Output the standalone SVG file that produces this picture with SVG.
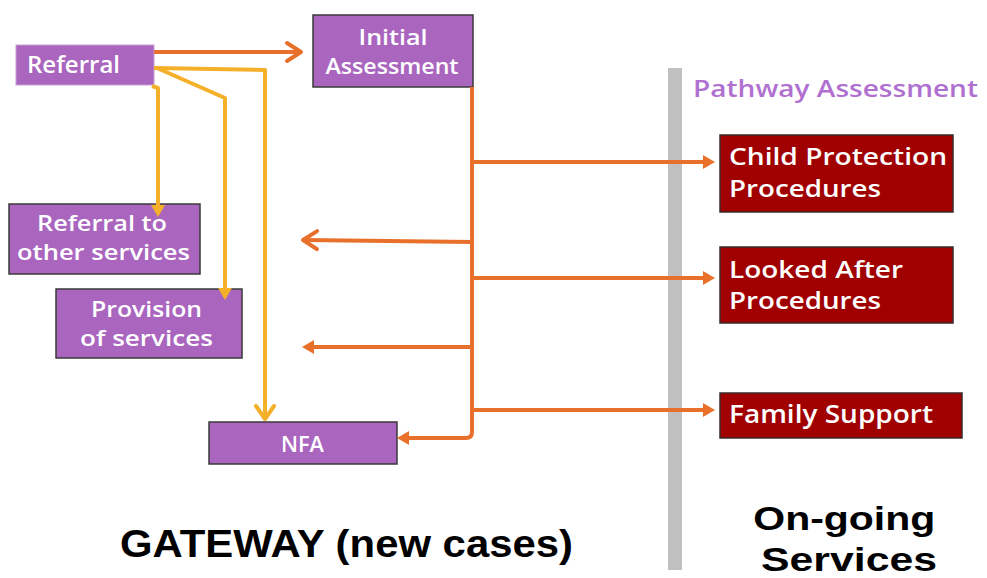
<svg xmlns="http://www.w3.org/2000/svg" width="987" height="578" viewBox="0 0 987 578">
<defs>
<style>
.pbox{fill:#AA66BF;stroke:#3a3a3a;stroke-width:1.5}
.rbox{fill:#A00000;stroke:#3a2a2a;stroke-width:1.5}
.wt{fill:#ffffff;font-family:"Open Sans","Noto Sans","DejaVu Sans",sans-serif;font-size:22px;font-weight:600}
.wtc{text-anchor:middle}
.or{fill:none;stroke:#E8702A;stroke-width:4;stroke-linejoin:round}
.ye{fill:none;stroke:#F5B02A;stroke-width:4;stroke-linejoin:round}
.big{fill:#000;font-family:"Liberation Sans",Arial,sans-serif;font-weight:bold}
</style>
<marker id="oChev" markerUnits="userSpaceOnUse" markerWidth="30" markerHeight="30" viewBox="0 0 30 30" refX="14" refY="10" orient="auto" overflow="visible">
<path d="M1,1 L15,10 L1,19" fill="none" stroke="#E8702A" stroke-width="4" stroke-linecap="round" stroke-linejoin="round"/>
</marker>
<marker id="oTri" markerUnits="userSpaceOnUse" markerWidth="20" markerHeight="20" viewBox="0 0 20 20" refX="4" refY="7" orient="auto" overflow="visible">
<path d="M0,0 L12,7 L0,14 z" fill="#E8702A"/>
</marker>
<marker id="yChev" markerUnits="userSpaceOnUse" markerWidth="30" markerHeight="30" viewBox="0 0 30 30" refX="13" refY="10" orient="auto" overflow="visible">
<path d="M1,1 L14,10 L1,19" fill="none" stroke="#F5B02A" stroke-width="4" stroke-linecap="round" stroke-linejoin="round"/>
</marker>
<marker id="yTri" markerUnits="userSpaceOnUse" markerWidth="20" markerHeight="20" viewBox="0 0 20 20" refX="4" refY="7" orient="auto" overflow="visible">
<path d="M0,0 L12,7 L0,14 z" fill="#F5B02A"/>
</marker>
</defs>
<rect width="987" height="578" fill="#ffffff"/>
<rect id="divider" x="668" y="68" width="14" height="502" fill="#C0C0C0"/>

<g id="referral">
<rect class="pbox" x="16" y="45" width="138" height="40" style="stroke:#c9a0d8;stroke-width:1"/>
<text class="wt" x="27" y="73" style="font-size:23px" textLength="93" lengthAdjust="spacingAndGlyphs">Referral</text>
</g>
<g id="initial-assessment">
<rect class="pbox" x="313" y="15" width="160" height="72"/>
<text class="wt wtc" x="393" y="45" textLength="69" lengthAdjust="spacingAndGlyphs">Initial</text>
<text class="wt wtc" x="392" y="74" textLength="133" lengthAdjust="spacingAndGlyphs">Assessment</text>
</g>
<g id="referral-other">
<rect class="pbox" x="9" y="204" width="191" height="70"/>
<text class="wt" x="37" y="231" textLength="130" lengthAdjust="spacingAndGlyphs">Referral to</text>
<text class="wt" x="17" y="260" textLength="173" lengthAdjust="spacingAndGlyphs">other services</text>
</g>
<g id="provision">
<rect class="pbox" x="56" y="289" width="186" height="69"/>
<text class="wt" x="91" y="317" textLength="111" lengthAdjust="spacingAndGlyphs">Provision</text>
<text class="wt" x="80" y="346" textLength="133" lengthAdjust="spacingAndGlyphs">of services</text>
</g>
<g id="nfa">
<rect class="pbox" x="209" y="422" width="188" height="42"/>
<text class="wt" x="281" y="452" textLength="43" lengthAdjust="spacingAndGlyphs">NFA</text>
</g>

<text id="pathway-label" x="693" y="97" fill="#B070D0" font-family="Open Sans, Noto Sans, DejaVu Sans, sans-serif" font-weight="600" font-size="24" textLength="285" lengthAdjust="spacingAndGlyphs">Pathway Assessment</text>

<g id="child-protection">
<rect class="rbox" x="720" y="135" width="233" height="77"/>
<text class="wt" x="729" y="165" style="font-size:24px" textLength="218" lengthAdjust="spacingAndGlyphs">Child Protection</text>
<text class="wt" x="729" y="197" style="font-size:24px" textLength="152" lengthAdjust="spacingAndGlyphs">Procedures</text>
</g>
<g id="looked-after">
<rect class="rbox" x="720" y="247" width="233" height="76"/>
<text class="wt" x="729" y="278" style="font-size:24px" textLength="174" lengthAdjust="spacingAndGlyphs">Looked After</text>
<text class="wt" x="729" y="309" style="font-size:24px" textLength="152" lengthAdjust="spacingAndGlyphs">Procedures</text>
</g>
<g id="family-support">
<rect class="rbox" x="720" y="393" width="242" height="45"/>
<text class="wt" x="729" y="423" style="font-size:25px" textLength="204" lengthAdjust="spacingAndGlyphs">Family Support</text>
</g>

<g id="connectors">
<path class="or" d="M154,52 H300" marker-end="url(#oChev)"/>
<path class="or" d="M472,87 V432 Q472,438 466,438 H405" marker-end="url(#oTri)"/>
<path class="or" d="M472,162 H707" marker-end="url(#oTri)"/>
<path class="or" d="M472,278 H707" marker-end="url(#oTri)"/>
<path class="or" d="M472,410 H707" marker-end="url(#oTri)"/>
<path class="or" d="M472,242 L304,240" marker-end="url(#oChev)"/>
<path class="or" d="M472,347 H310" marker-end="url(#oTri)"/>
<path class="ye" d="M154,68 L265,70 V418" marker-end="url(#yChev)"/>
<path class="ye" d="M157,68 L225,98 V292" marker-end="url(#yTri)"/>
<path class="ye" d="M152,86 L158,88 V209" marker-end="url(#yTri)"/>
</g>

<text id="gateway-label" class="big" x="120" y="557" font-size="39" textLength="453" lengthAdjust="spacingAndGlyphs">GATEWAY (new cases)</text>
<text id="ongoing-label" class="big" font-size="34" text-anchor="middle">
<tspan x="849" y="530" textLength="182" lengthAdjust="spacingAndGlyphs">On-going</tspan>
<tspan x="849" y="571" textLength="176" lengthAdjust="spacingAndGlyphs">Services</tspan>
</text>
</svg>
